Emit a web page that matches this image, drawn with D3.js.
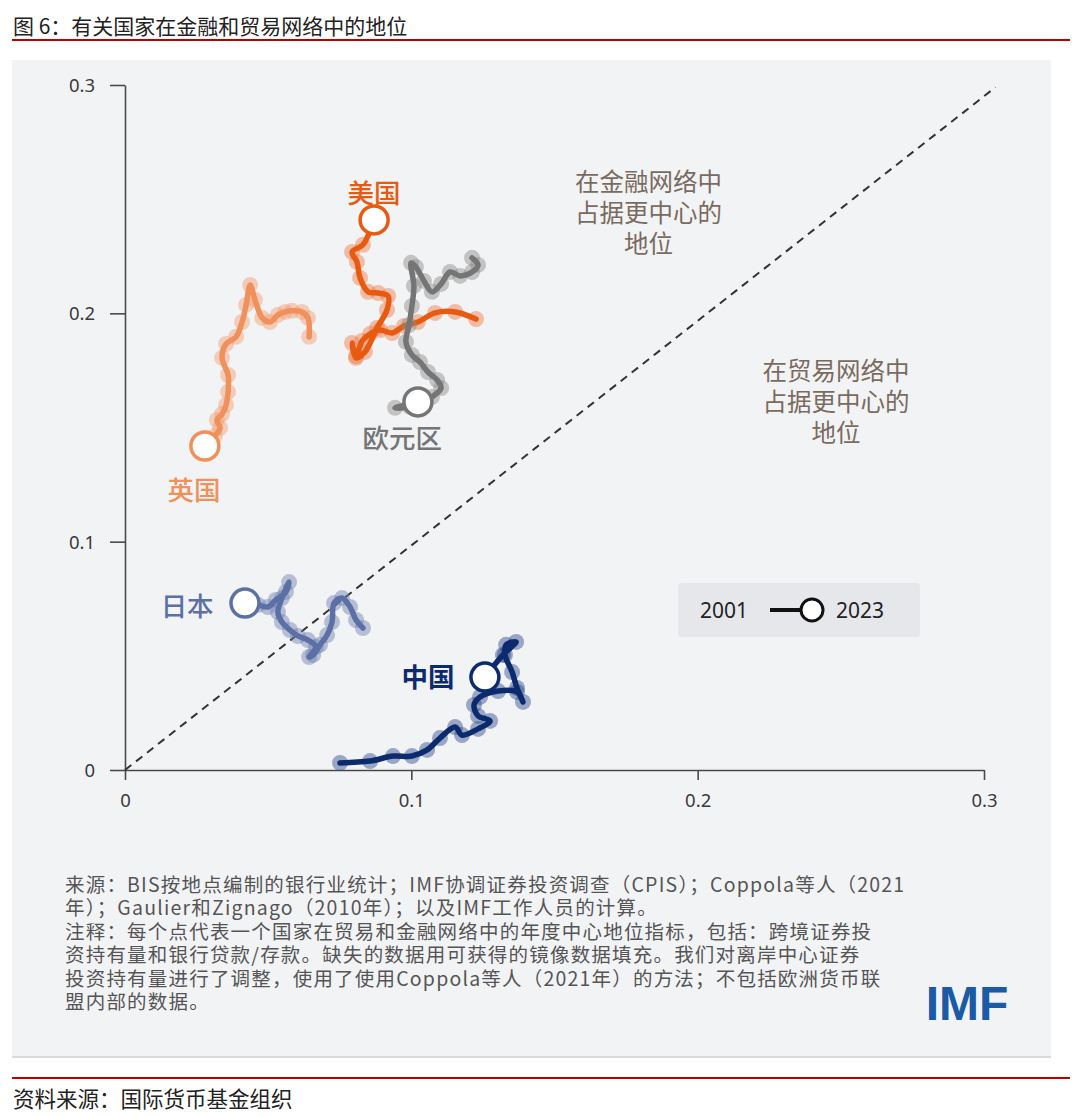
<!DOCTYPE html>
<html>
<head>
<meta charset="utf-8">
<script src="https://cdn.jsdelivr.net/npm/d3@7"></script>
<style>
  body { margin: 0; background: #fff; }
  svg text { font-family: "Noto Sans CJK SC", "Noto Sans", sans-serif; }
</style>
</head>
<body>
<div id="chart"></div>
<script>
// 2001 -> 2023, x = 贸易网络中心度, y = 金融网络中心度
const years = [2001, 2002, 2003, 2004, 2005, 2006, 2007, 2008, 2009, 2010, 2011, 2012,
  2013, 2014, 2015, 2016, 2017, 2018, 2019, 2020, 2021, 2022, 2023];

const usX = [0.1226, 0.1153, 0.1083, 0.1023, 0.0975, 0.0933, 0.0891, 0.0856, 0.0828, 0.0807, 0.0793, 0.0807,
  0.0838, 0.0880, 0.0915, 0.0919, 0.0884, 0.0849, 0.0821, 0.0810, 0.0793, 0.0831, 0.0870];
const usY = [0.1975, 0.2006, 0.2002, 0.1962, 0.1945, 0.1914, 0.1927, 0.1910, 0.1879, 0.1813, 0.1870, 0.1805,
  0.1831, 0.1936, 0.2015, 0.2076, 0.2089, 0.2094, 0.2155, 0.2225, 0.2269, 0.2300, 0.2409];

const euX = [0.1212, 0.1233, 0.1212, 0.1170, 0.1135, 0.1104, 0.1072, 0.1044, 0.1016, 0.0999, 0.1009, 0.1002,
  0.0992, 0.0981, 0.1002, 0.1030, 0.1058, 0.1090, 0.1104, 0.1072, 0.0995, 0.0943, 0.1023];
const euY = [0.2243, 0.2212, 0.2181, 0.2164, 0.2181, 0.2129, 0.2094, 0.2142, 0.2203, 0.2221, 0.2120, 0.2032,
  0.1949, 0.1875, 0.1818, 0.1787, 0.1743, 0.1708, 0.1673, 0.1634, 0.1590, 0.1586, 0.1612];

const ukX = [0.0643, 0.0639, 0.0618, 0.0583, 0.0559, 0.0534, 0.0506, 0.0479, 0.0454, 0.0437, 0.0423, 0.0409,
  0.0388, 0.0353, 0.0339, 0.0360, 0.0360, 0.0353, 0.0339, 0.0321, 0.0332, 0.0314, 0.0279];
const ukY = [0.1897, 0.1980, 0.2006, 0.2011, 0.2006, 0.1993, 0.1962, 0.1980, 0.2059, 0.2124, 0.2037, 0.1962,
  0.1897, 0.1866, 0.1805, 0.1730, 0.1656, 0.1599, 0.1559, 0.1533, 0.1498, 0.1463, 0.1419];

const jpX = [0.0831, 0.0807, 0.0786, 0.0758, 0.0730, 0.0723, 0.0706, 0.0681, 0.0657, 0.0643, 0.0667, 0.0639,
  0.0604, 0.0576, 0.0548, 0.0534, 0.0548, 0.0573, 0.0562, 0.0527, 0.0499, 0.0465, 0.0419];
const jpY = [0.0622, 0.0657, 0.0714, 0.0753, 0.0731, 0.0648, 0.0591, 0.0548, 0.0504, 0.0495, 0.0539, 0.0569,
  0.0587, 0.0613, 0.0648, 0.0692, 0.0753, 0.0823, 0.0780, 0.0745, 0.0714, 0.0723, 0.0731];

const cnX = [0.0751, 0.0856, 0.0936, 0.1002, 0.1055, 0.1100, 0.1153, 0.1177, 0.1233, 0.1275, 0.1233, 0.1219,
  0.1240, 0.1303, 0.1369, 0.1390, 0.1369, 0.1352, 0.1327, 0.1331, 0.1366, 0.1320, 0.1257];
const cnY = [0.0031, 0.0039, 0.0061, 0.0061, 0.0088, 0.0140, 0.0188, 0.0153, 0.0180, 0.0215, 0.0237, 0.0285,
  0.0320, 0.0346, 0.0342, 0.0298, 0.0359, 0.0429, 0.0504, 0.0548, 0.0561, 0.0504, 0.0407];

const countries = ["美国", "欧元区", "英国", "日本", "中国"];
const xTicks = [0, 0.1, 0.2, 0.3];
const yTicks = [0, 0.1, 0.2, 0.3];
const tickLabels = ["0", "0.1", "0.2", "0.3"];
const legendYears = ["2001", "2023"];

const title = "图 6：有关国家在金融和贸易网络中的地位";
const noteLines = [
  "来源：BIS按地点编制的银行业统计；IMF协调证券投资调查（CPIS）；Coppola等人（2021",
  "年）；Gaulier和Zignago（2010年）；以及IMF工作人员的计算。",
  "注释：每个点代表一个国家在贸易和金融网络中的年度中心地位指标，包括：跨境证券投",
  "资持有量和银行贷款/存款。缺失的数据用可获得的镜像数据填充。我们对离岸中心证券",
  "投资持有量进行了调整，使用了使用Coppola等人（2021年）的方法；不包括欧洲货币联",
  "盟内部的数据。"
];
const finText = ["在金融网络中", "占据更中心的", "地位"];
const tradeText = ["在贸易网络中", "占据更中心的", "地位"];
const sourceText = "资料来源：国际货币基金组织";

(() => {
  const W = 1080, H = 1117;
  const svg = d3.select("#chart").append("svg")
    .attr("width", W)
    .attr("height", H);

  //タイトルと赤線
  svg.append("text")
    .attr("x", 13).attr("y", 34)
    .attr("font-size", 21).attr("fill", "#222")
    .text(title);
  svg.append("line")
    .attr("x1", 12).attr("x2", 1070).attr("y1", 40).attr("y2", 40)
    .attr("stroke", "#c00000").attr("stroke-width", 2);

  //背景パネル
  svg.append("rect")
    .attr("x", 12).attr("y", 60).attr("width", 1039).attr("height", 997)
    .attr("fill", "#f2f3f5");
  svg.append("line")
    .attr("x1", 12).attr("x2", 1051).attr("y1", 1057).attr("y2", 1057)
    .attr("stroke", "#cfd0d2").attr("stroke-width", 1.5);

  const xScale = d3.scaleLinear().domain([0, 0.3]).range([125, 984]);
  const yScale = d3.scaleLinear().domain([0, 0.3]).range([770, 85]);

  const xAxis = d3.axisBottom(xScale)
    .tickValues(xTicks)
    .tickSize(10)
    .tickPadding(14)
    .tickSizeOuter(0)
    .tickFormat((d, i) => tickLabels[i]);
  const yAxis = d3.axisLeft(yScale)
    .tickValues(yTicks)
    .tickSize(15)
    .tickPadding(15)
    .tickSizeOuter(0)
    .tickFormat((d, i) => tickLabels[i]);

  const gx = svg.append("g")
    .attr("transform", "translate(0," + yScale(0) + ")")
    .call(xAxis);
  const gy = svg.append("g")
    .attr("transform", "translate(" + xScale(0) + ",0)")
    .call(yAxis);
  [gx, gy].forEach(g => {
    g.select(".domain").attr("stroke", "#4a4a4a").attr("stroke-width", 1.6);
    g.selectAll(".tick line").attr("stroke", "#4a4a4a").attr("stroke-width", 1.6);
    g.selectAll(".tick text")
      .attr("font-size", 18.5).attr("fill", "#3a3a3a")
      .style("font-family", "'Noto Sans', sans-serif");
  });
  gy.selectAll(".tick text").attr("dy", "0.35em");

  //45度線
  svg.append("path")
    .datum([[0, 0], [0.304, 0.299]])
    .attr("fill", "none")
    .attr("stroke", "#333")
    .attr("stroke-width", 2)
    .attr("stroke-dasharray", "8,6")
    .attr("d", d3.line().x(d => xScale(d[0])).y(d => yScale(d[1])));

  //注記
  const noteText = (lines, cx, cy) => {
    lines.forEach((t, i) => {
      svg.append("text")
        .attr("x", cx).attr("y", cy + i * 31)
        .attr("text-anchor", "middle")
        .attr("dominant-baseline", "central")
        .attr("font-size", 24.5).attr("fill", "#7a6b60")
        .text(t);
    });
  };
  noteText(finText, xScale(0.1828), yScale(0.2580));
  noteText(tradeText, xScale(0.2483), yScale(0.1752));

  const series = [
    { name: countries[0], xs: usX, ys: usY, color: "#e85a10", halo: "#ee7a45", lx: 0.0870, ly: 0.2535 },
    { name: countries[1], xs: euX, ys: euY, color: "#757575", halo: "#8a8a8a", lx: 0.0968, ly: 0.1459 },
    { name: countries[2], xs: ukX, ys: ukY, color: "#f0905a", halo: "#f29e70", lx: 0.0241, ly: 0.1235 },
    { name: countries[3], xs: jpX, ys: jpY, color: "#5c70a6", halo: "#6c7fb2", lx: 0.0217, ly: 0.0727 },
    { name: countries[4], xs: cnX, ys: cnY, color: "#0c2a6e", halo: "#2d4a8a", lx: 0.1058, ly: 0.0412 }
  ];

  const line = d3.line()
    .x(d => xScale(d[0]))
    .y(d => yScale(d[1]))
    .curve(d3.curveCatmullRom.alpha(0.5));

  series.forEach(s => {
    const pts = years.map((y, i) => [s.xs[i], s.ys[i]]);
    const g = svg.append("g");
    //各年の点（半透明）
    g.selectAll("circle.pt")
      .data(pts.slice(0, pts.length - 1))
      .enter().append("circle")
      .attr("class", "pt")
      .attr("cx", d => xScale(d[0]))
      .attr("cy", d => yScale(d[1]))
      .attr("r", 8)
      .attr("fill", s.halo)
      .attr("fill-opacity", 0.45);
    g.append("path")
      .datum(pts)
      .attr("fill", "none")
      .attr("stroke", s.color)
      .attr("stroke-width", 5.5)
      .attr("stroke-linecap", "round")
      .attr("stroke-linejoin", "round")
      .attr("d", line);
    //2023年
    const last = pts[pts.length - 1];
    g.append("circle")
      .attr("cx", xScale(last[0]))
      .attr("cy", yScale(last[1]))
      .attr("r", 14)
      .attr("fill", "#fff")
      .attr("stroke", s.color)
      .attr("stroke-width", 3.5);
    svg.append("text")
      .attr("x", xScale(s.lx)).attr("y", yScale(s.ly))
      .attr("text-anchor", "middle")
      .attr("dominant-baseline", "central")
      .attr("font-size", 26.5)
      .attr("font-weight", s.name === "中国" ? 700 : 500)
      .attr("fill", s.color)
      .text(s.name);
  });

  //凡例
  const lg = svg.append("g").attr("transform", "translate(678,583)");
  lg.append("rect")
    .attr("width", 242).attr("height", 54).attr("rx", 4)
    .attr("fill", "#e6e7ea");
  lg.append("text")
    .attr("x", 22).attr("y", 27)
    .attr("dominant-baseline", "central")
    .attr("font-size", 21).attr("fill", "#222")
    .style("font-family", "'Noto Sans', sans-serif")
    .text(legendYears[0]);
  lg.append("line")
    .attr("x1", 92).attr("x2", 124).attr("y1", 27).attr("y2", 27)
    .attr("stroke", "#111").attr("stroke-width", 4);
  lg.append("circle")
    .attr("cx", 134).attr("cy", 27).attr("r", 11)
    .attr("fill", "#fff").attr("stroke", "#111").attr("stroke-width", 3);
  lg.append("text")
    .attr("x", 158).attr("y", 27)
    .attr("dominant-baseline", "central")
    .attr("font-size", 21).attr("fill", "#222")
    .style("font-family", "'Noto Sans', sans-serif")
    .text(legendYears[1]);

  //出典・注釈
  noteLines.forEach((t, i) => {
    svg.append("text")
      .attr("x", 65).attr("y", 883 + i * 23.5)
      .attr("dominant-baseline", "central")
      .attr("font-size", 19.5)
      .attr("letter-spacing", 1.2)
      .attr("fill", "#555")
      .text(t);
  });

  //IMFロゴ
  svg.append("text")
    .attr("x", 967).attr("y", 1003)
    .attr("text-anchor", "middle")
    .attr("dominant-baseline", "central")
    .attr("font-size", 48).attr("font-weight", 900)
    .attr("fill", "#1b5aa5")
    .style("font-family", "'Liberation Sans', Arial, sans-serif")
    .text("IMF");

  svg.append("line")
    .attr("x1", 12).attr("x2", 1070).attr("y1", 1078).attr("y2", 1078)
    .attr("stroke", "#c00000").attr("stroke-width", 2);
  svg.append("text")
    .attr("x", 13).attr("y", 1097)
    .attr("dominant-baseline", "central")
    .attr("font-size", 21.5).attr("fill", "#222")
    .text(sourceText);
})();
</script>
</body>
</html>
